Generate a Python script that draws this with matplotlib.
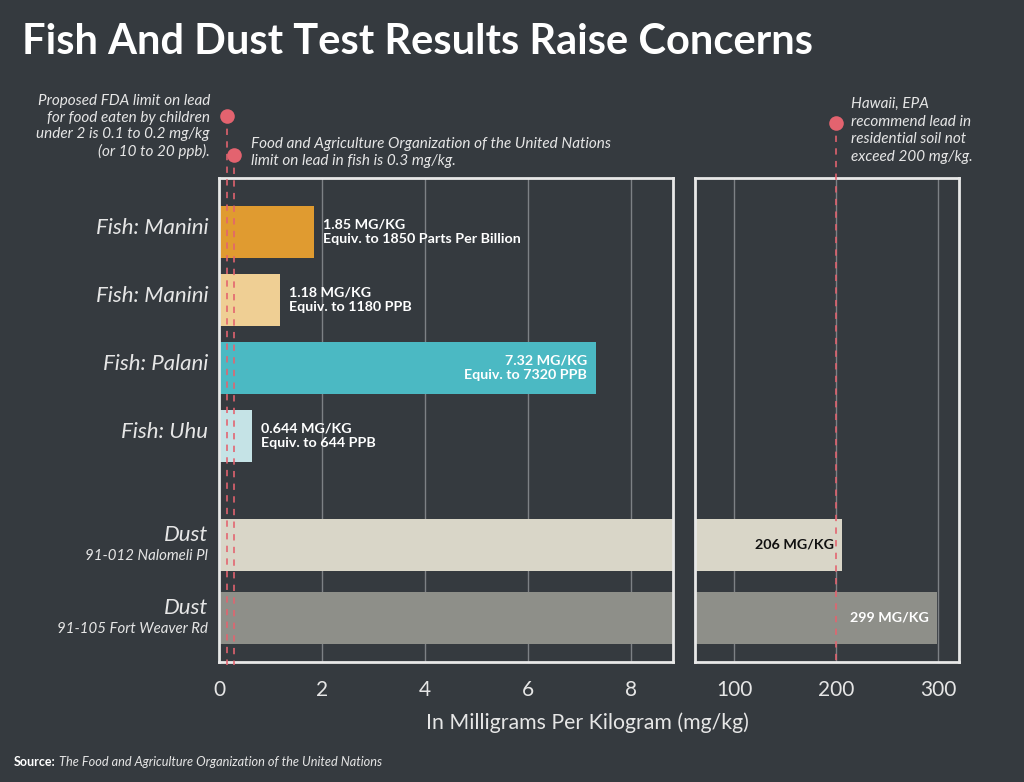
import matplotlib
matplotlib.use("Agg")
import matplotlib.pyplot as plt
import matplotlib.transforms as mtransforms

# ---- data ----
categories = ["Fish: Manini", "Fish: Manini", "Fish: Palani", "Fish: Uhu", "Dust", "Dust"]
subtitles = ["", "", "", "", "91-012 Nalomeli Pl", "91-105 Fort Weaver Rd"]
values = [1.85, 1.18, 7.32, 0.644, 206, 299]
label_line1 = ["1.85 MG/KG", "1.18 MG/KG", "7.32 MG/KG", "0.644 MG/KG", "206 MG/KG", "299 MG/KG"]
label_line2 = ["Equiv. to 1850 Parts Per Billion", "Equiv. to 1180 PPB", "Equiv. to 7320 PPB",
               "Equiv. to 644 PPB", "", ""]
colors = ["#e09b30", "#efcf94", "#4bb9c3", "#c5e3e6", "#d9d6c8", "#8e8f89"]
ypos = [0, 1, 2, 3, 4.6, 5.67]
left_ticks = [0, 2, 4, 6, 8]
right_ticks = [100, 200, 300]
fda_limit = 0.15
fao_limit = 0.3
epa_limit = 200

BG = "#353a3f"
FG = "#e6e6e6"
FRAME = "#e8e8e8"
GRID = "#7d8185"
RED = "#e3636f"
FONT = "Lato"

plt.rcParams["font.family"] = [FONT, "DejaVu Sans"]

fig = plt.figure(figsize=(10.24, 7.82), dpi=100, facecolor=BG)

def fx(px):
    return px / 1024.0

def fy(py):
    return 1 - py / 782.0

axL = fig.add_axes([fx(219), fy(662), fx(673) - fx(219), fy(178) - fy(662)])
axR = fig.add_axes([fx(695), fy(662), fx(959) - fx(695), fy(178) - fy(662)])

for ax in (axL, axR):
    ax.set_facecolor(BG)
    for s in ax.spines.values():
        s.set_color(FRAME)
        s.set_linewidth(2)
    ax.set_ylim(6.32, -0.79)
    ax.set_yticks([])
    ax.tick_params(axis="x", length=0, pad=13, labelsize=15, labelcolor=FG)
    ax.xaxis.grid(True, color=GRID, linewidth=1)
    ax.set_axisbelow(True)

axL.set_xlim(0, 8.82)
axL.set_xticks(left_ticks)
axR.set_xlim(61.8, 320.6)
axR.set_xticks(right_ticks)

bar_h = 0.76
axL.barh(ypos, values, height=bar_h, color=colors, zorder=2)
axR.barh(ypos[4:], values[4:], height=bar_h, color=colors[4:], zorder=2)

# bar labels
off = mtransforms.offset_copy
LBL = 10.3
for i in range(4):
    txt = label_line1[i] + "\n" + label_line2[i]
    if i == 2:
        axL.text(values[i], ypos[i], txt, transform=off(axL.transData, fig=fig, x=-9, y=0, units="dots"),
                 ha="right", va="center", color="white", fontsize=LBL, fontweight="bold",
                 multialignment="right", linespacing=1.2, zorder=3)
    else:
        axL.text(values[i], ypos[i], txt, transform=off(axL.transData, fig=fig, x=9, y=0, units="dots"),
                 ha="left", va="center", color="white", fontsize=LBL, fontweight="bold",
                 linespacing=1.2, zorder=3)
dust_txt_colors = ["#111111", "white"]
for j, i in enumerate([4, 5]):
    axR.text(values[i], ypos[i], label_line1[i], transform=off(axR.transData, fig=fig, x=-8, y=0, units="dots"),
             ha="right", va="center", color=dust_txt_colors[j], fontsize=LBL, fontweight="bold", zorder=4)

# category labels
for i in range(6):
    if subtitles[i]:
        axL.text(-0.21, ypos[i], categories[i], transform=off(axL.transData, fig=fig, x=0, y=10, units="dots"),
                 ha="right", va="center", color=FG, fontsize=16, style="italic")
        axL.text(-0.21, ypos[i], subtitles[i], transform=off(axL.transData, fig=fig, x=0, y=-11, units="dots"),
                 ha="right", va="center", color=FG, fontsize=10.8, style="italic")
    else:
        axL.text(-0.21, ypos[i], categories[i], transform=off(axL.transData, fig=fig, x=0, y=4, units="dots"),
                 ha="right", va="center", color=FG, fontsize=16, style="italic")

# limit lines with dots
def limit(ax, x, ytop):
    tr = mtransforms.blended_transform_factory(ax.transData, ax.transAxes)
    ax.plot([x, x], [ytop, -0.006], transform=tr, color=RED, linewidth=1.3, alpha=0.9,
            linestyle=(0, (3.5, 3.5)), clip_on=False, zorder=5)
    ax.plot([x], [ytop], transform=tr, marker="o", markersize=10.5, color=RED,
            markeredgewidth=0, clip_on=False, zorder=6)

limit(axL, fda_limit, (662 - 116) / 484.0)
limit(axL, fao_limit, (662 - 155) / 484.0)
limit(axR, epa_limit, (662 - 123) / 484.0)

# annotations
ANN = 11
fig.text(fx(210), fy(94), "Proposed FDA limit on lead\nfor food eaten by children\nunder 2 is 0.1 to 0.2 mg/kg\n(or 10 to 20 ppb).",
         ha="right", va="top", color=FG, fontsize=ANN, style="italic",
         multialignment="right", linespacing=1.24)
fig.text(fx(251), fy(137), "Food and Agriculture Organization of the United Nations\nlimit on lead in fish is 0.3 mg/kg.",
         ha="left", va="top", color=FG, fontsize=ANN, style="italic", linespacing=1.27)
fig.text(fx(851), fy(97), "Hawaii, EPA\nrecommend lead in\nresidential soil not\nexceed 200 mg/kg.",
         ha="left", va="top", color=FG, fontsize=ANN, style="italic", linespacing=1.32)

# title, axis label, source
fig.text(fx(22), fy(42), "Fish And Dust Test Results Raise Concerns", ha="left", va="center",
         color="white", fontsize=30, fontweight="bold")
fig.text(fx(587), fy(723), "In Milligrams Per Kilogram (mg/kg)", ha="center", va="center",
         color=FG, fontsize=15.3)
fig.text(fx(14), fy(762), "Source:", ha="left", va="center", color="white", fontsize=9, fontweight="bold")
fig.text(fx(59), fy(762), "The Food and Agriculture Organization of the United Nations", ha="left", va="center",
         color=FG, fontsize=9.2, style="italic")

fig.savefig("out.png", dpi=100, facecolor=BG)
